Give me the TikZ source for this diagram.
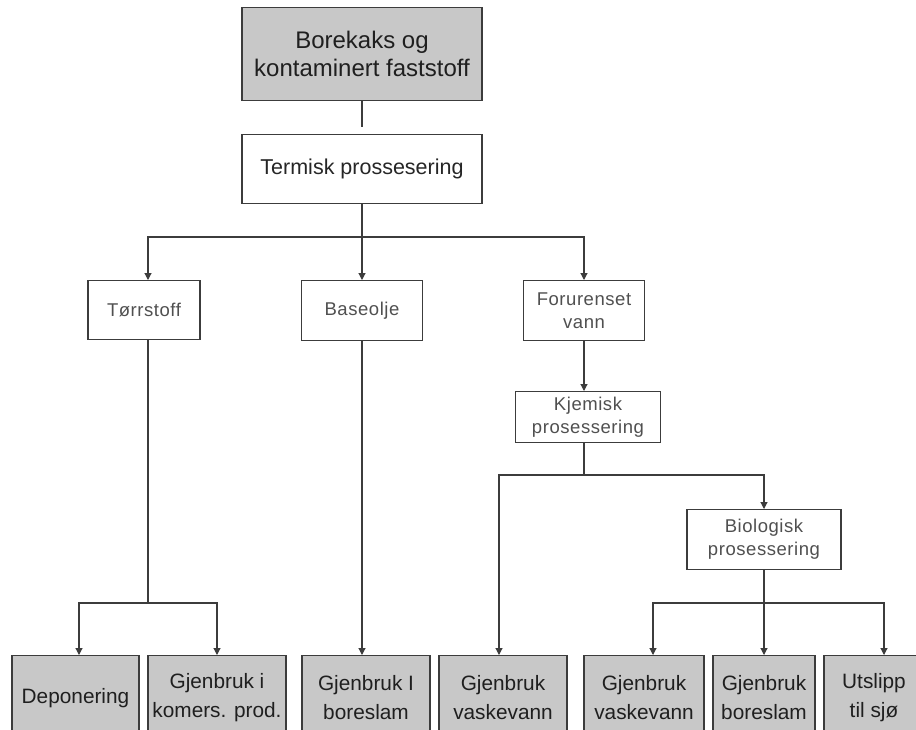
\documentclass[tikz,border=0pt]{standalone}
\usepackage{fontspec}
\setmainfont{Liberation Sans}
\usetikzlibrary{arrows.meta,calc}
\definecolor{boxgray}{HTML}{C8C8C8}
\definecolor{linegray}{HTML}{3C3C3C}
\definecolor{txtgray}{HTML}{505050}
\newfontfamily\spacedfont[LetterSpace=3]{Liberation Sans}
\begin{document}
\begin{tikzpicture}[x=1pt,y=-1pt,
  box/.style={draw=linegray,line width=1.3pt,inner sep=0pt,align=center,anchor=north},
  gbox/.style={box,fill=boxgray,text=black!88},
  bbox/.style={gbox,minimum height=84pt,font=\fontsize{20.8}{29}\selectfont},
  wbox/.style={box,fill=white,text=txtgray,font=\spacedfont\fontsize{18.5}{23}\selectfont},
  conn/.style={draw=linegray,line width=1.1pt},
  arr/.style={conn,-{Triangle[width=7pt,length=7pt]}}]
\useasboundingbox (0,0) rectangle (916,729);
\clip (0,0) rectangle (916,729);
\fill[white] (0,0) rectangle (916,729);

% top level
\node[gbox,minimum width=240pt,minimum height=93pt,font=\fontsize{24}{28}\selectfont] (src) at (362,7) {Borekaks og\\kontaminert faststoff};
\node[box,fill=white,text=black!85,minimum width=240pt,minimum height=69pt,font=\fontsize{21.5}{25}\selectfont] (term) at (362,134) {Termisk prossesering};

% intermediate
\node[wbox,minimum width=112pt,minimum height=59pt] (tor) at (144,280) {Tørrstoff};
\node[wbox,minimum width=121pt,minimum height=60pt] (base) at (362,280) {Baseolje};
\node[wbox,minimum width=121pt,minimum height=60pt] (foru) at (584,280) {Forurenset\\vann};
\node[wbox,minimum width=145pt,minimum height=51pt] (kjem) at (588,391) {Kjemisk\\prosessering};
\node[wbox,minimum width=154pt,minimum height=60pt] (bio) at (764,509) {Biologisk\\prosessering};

% bottom
\node[bbox,minimum width=127pt] (dep) at (75.5,655) {Deponering};
\node[bbox,minimum width=138pt] (gjk) at (217,655) {Gjenbruk i\\komers. prod.};
\node[bbox,minimum width=128pt] (gjb) at (366,655) {Gjenbruk I\\boreslam};
\node[bbox,minimum width=128pt] (vas1) at (503,655) {Gjenbruk\\vaskevann};
\node[bbox,minimum width=120pt] (vas2) at (644,655) {Gjenbruk\\vaskevann};
\node[bbox,minimum width=102pt] (bor2) at (764,655) {Gjenbruk\\boreslam};
\node[bbox,minimum width=100pt] (uts) at (874,655) {Utslipp\\til sjø};

% connectors
\draw[conn,shorten >=7pt] (src.south) -- (term.north);
\coordinate (b1) at (362,237);
\draw[conn] (term.south) -- (b1);
\draw[arr] (b1) -| ([xshift=4pt]tor.north);
\draw[arr] (b1) -- (base.north);
\draw[arr] (b1) -| (foru.north);

\coordinate (b2) at (148,603);
\draw[conn] ([xshift=4pt]tor.south) -- (b2);
\draw[arr] (b2) -| ([xshift=3.5pt]dep.north);
\draw[arr] (b2) -| (gjk.north);

\draw[arr] (base.south) -- ([xshift=-4pt]gjb.north);

\draw[arr] (foru.south) -- ([xshift=-4pt]kjem.north);
\coordinate (b3) at (584,475);
\draw[conn] ([xshift=-4pt]kjem.south) -- (b3);
\draw[arr] (b3) -| ([xshift=-4pt]vas1.north);
\draw[arr] (b3) -| (bio.north);

\coordinate (b4) at (764,603);
\draw[conn] (bio.south) -- (b4);
\draw[arr] (b4) -| ([xshift=9pt]vas2.north);
\draw[arr] (b4) -- (bor2.north);
\draw[arr] (b4) -| ([xshift=10pt]uts.north);
\end{tikzpicture}
\end{document}
